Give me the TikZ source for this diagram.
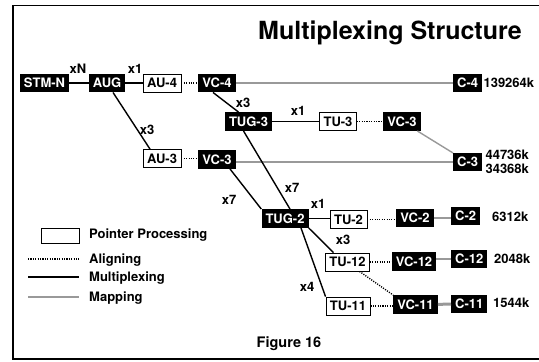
\documentclass[tikz,border=0pt]{standalone}
\usepackage{fontspec}
\setmainfont{TeX Gyre Heros}
\usepackage{tikz}
\usetikzlibrary{calc}
\usetikzlibrary{positioning}

\newcommand{\lbl}{\fontsize{13}{14.5}\selectfont\bfseries}

\tikzset{
  blk/.style={fill=black, text=white, inner xsep=4pt, inner ysep=0pt, minimum height=18.5pt, font=\lbl},
  ptr/.style={draw=black, line width=0.8pt, fill=white, inner xsep=4pt, inner ysep=0pt, minimum height=18pt, font=\lbl},
  cnt/.style={font=\lbl, inner sep=0pt},
  mux/.style={line width=1.4pt},
  algn/.style={line width=1.4pt, dash pattern=on 1.1pt off 1.3pt},
  mapg/.style={line width=1.4pt, color=black!40}
}

\begin{document}
\begin{tikzpicture}[x=1pt,y=-1pt]
            \useasboundingbox (0,0) rectangle (539,362);
            \draw[line width=1.3pt] (539,5.5) -- (13,5.5) -- (13,359) -- (539,359);

            \node[font=\fontsize{25}{29}\selectfont\bfseries] (title) at (390,33) {Multiplexing Structure};

            % top row
            \node[blk] (stm) at (44.5,83) {STM-N};
            \node[blk] (aug) at (107,83) {AUG};
            \node[ptr] (au4) at (162,83) {AU-4};
            \node[blk] (vc4) at (217,83) {VC-4};
            \node[blk, anchor=west] (c4) at (453,83) {C-4};

            % TUG-3 branch
            \node[blk] (tug3) at (248.5,121.5) {TUG-3};
            \node[ptr] (tu3) at (338,121.5) {TU-3};
            \node[blk] (vc3b) at (402,121.5) {VC-3};

            % AU-3 branch
            \node[ptr] (au3) at (162,158.5) {AU-3};
            \node[blk] (vc3a) at (217,159.5) {VC-3};
            \node[blk, anchor=west] (c3) at (453,162) {C-3};

            % TUG-2 branch
            \node[blk] (tug2) at (285,218.5) {TUG-2};
            \node[ptr] (tu2) at (348.5,219.5) {TU-2};
            \node[blk] (vc2) at (415,218) {VC-2};
            \node[blk, anchor=west] (c2) at (451,216) {C-2};

            \node[ptr] (tu12) at (347.5,262) {TU-12};
            \node[blk] (vc12) at (414,261.5) {VC-12};
            \node[blk, anchor=west] (c12) at (451,259) {C-12};

            \node[ptr] (tu11) at (348,306) {TU-11};
            \node[blk] (vc11) at (415.5,304.5) {VC-11};
            \node[blk, anchor=west] (c11) at (451,304) {C-11};

            % rates
            \node[cnt, anchor=west] (r4) at ([xshift=1pt]c4.east) {139264k};
            \node[cnt, anchor=west, align=left] (r3) at ([xshift=3pt]c3.east) {44736k\\34368k};
            \node[cnt, anchor=west] (r2) at (492,217) {6312k};
            \node[cnt, anchor=west] (r12) at (494,258.5) {2048k};
            \node[cnt, anchor=west] (r11) at (493,302.5) {1544k};

            % connections
            \draw[mux] (stm) -- (aug);
            \draw[mux] (aug) -- (au4);
            \draw[algn] (au4) -- (vc4);
            \draw[mapg] (vc4) -- (c4);
            \draw[mux] ([xshift=-4pt]vc4.south) -- ([xshift=-10pt]tug3.north);
            \draw[mux] ([xshift=6pt]aug.south) -- ([xshift=-12pt]au3.north);
            \draw[algn] (au3.east) -- (au3.east -| vc3a.west);
            \draw[mapg] (vc3a.east |- c3) -- (c3);
            \draw[mux] (tug3) -- (tu3);
            \draw[algn] (tu3) -- (vc3b);
            \draw[mapg] (vc3b) -- (c3);
            \draw[mux] ([xshift=13pt]vc3a.south) -- (tug2.north west);
            \draw[mux] ([xshift=-5pt]tug3.south) -- ([xshift=5pt]tug2.north);
            \draw[mux] (tug2.east) -- (tug2.east -| tu2.west);
            \draw[algn] (tu2.east) -- (tu2.east -| vc2.west);
            \draw[mapg] (vc2.east) -- (vc2.east -| c2.west);
            \draw[mux] (tug2.south east) -- ([xshift=-14pt]tu12.north);
            \draw[algn] (tu12.east) -- (tu12.east -| vc12.west);
            \draw[mapg] (c12.west) -- (c12.west -| vc12.east);
            \draw[algn] ([xshift=12pt]tu12.south) -- (vc11.north west);
            \draw[mux] ([xshift=16pt]tug2.south) -- (tu11.north west);
            \draw[algn] (tu11.east) -- (tu11.east -| vc11.west);
            \draw[mapg, line width=3pt] (vc11) -- (c11);

            % multiplicities
            \node[cnt] (mn) at (78,69) {xN};
            \node[cnt] (m1a) at (135,69) {x1};
            \node[cnt] (m3a) at (147,130) {x3};
            \node[cnt] (m3b) at (243,103) {x3};
            \node[cnt] (m1b) at (298,111) {x1};
            \node[cnt] (m7a) at (229,200) {x7};
            \node[cnt] (m7b) at (292,188) {x7};
            \node[cnt] (m1c) at (318,204) {x1};
            \node[cnt] (m3c) at (343,240) {x3};
            \node[cnt] (m4) at (307,287) {x4};

            % legend
            \node[draw=black, line width=0.8pt, minimum width=38pt, minimum height=15pt, inner sep=0pt] (lgbox) at (60,235.5) {};
            \coordinate (la0) at (28,259);
            \coordinate (la1) at (79,259);
            \coordinate (lm0) at (28,277);
            \coordinate (lm1) at (79,277);
            \coordinate (lp0) at (28,297);
            \coordinate (lp1) at (79,297);
            \draw[algn] (la0) -- (la1);
            \draw[mux] (lm0) -- (lm1);
            \draw[mapg] (lp0) -- (lp1);
            \node[cnt, anchor=west] (lgt1) at (89,235.5) {Pointer Processing};
            \node[cnt, anchor=west] (lgt2) at (89,260) {Aligning};
            \node[cnt, anchor=west] (lgt3) at (89,278) {Multiplexing};
            \node[cnt, anchor=west] (lgt4) at (89,298) {Mapping};

            \node[font=\fontsize{14.5}{17}\selectfont\bfseries] (fig) at (289,344) {Figure 16};
        \end{tikzpicture}
\end{document}
